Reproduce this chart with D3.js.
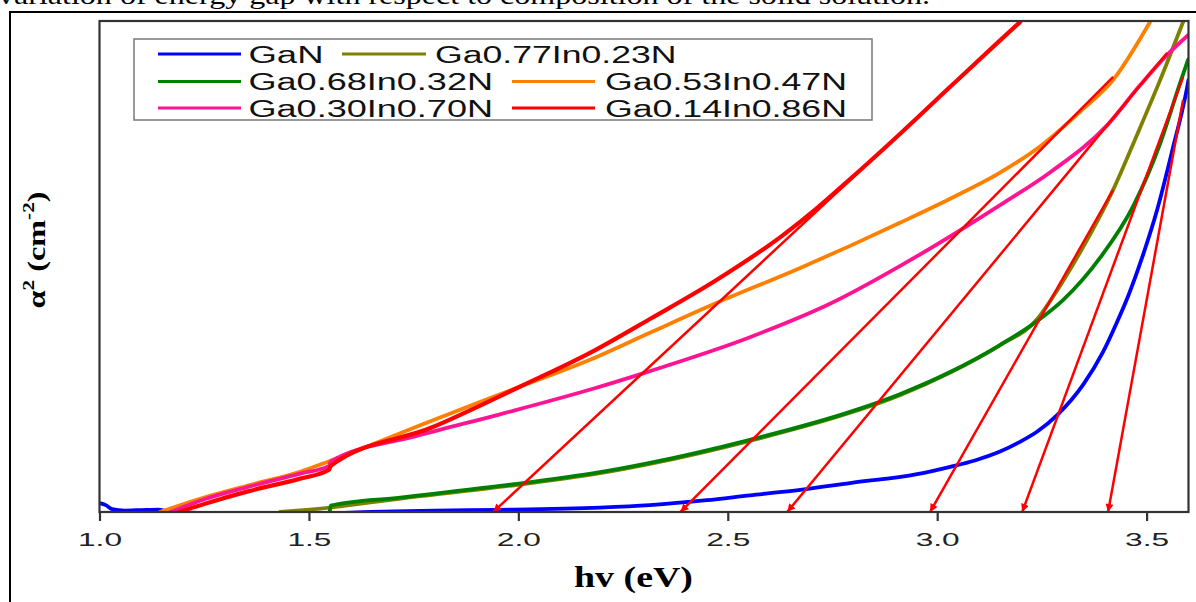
<!DOCTYPE html>
<html><head><meta charset="utf-8">
<script src="https://cdn.jsdelivr.net/npm/d3@7"></script>
<style>
html,body{margin:0;padding:0;background:#fff;}
svg{display:block;}
</style></head>
<body>
<svg id="chart" width="1196" height="602"></svg>
<script>
// ---- data (hv in eV, alpha^2 in arbitrary units) ----
const seriesNames = ["GaN","Ga0.77In0.23N","Ga0.68In0.32N","Ga0.53In0.47N","Ga0.30In0.70N","Ga0.14In0.86N"];
const seriesColors = ["#0000ff","#808000","#008000","#ff8000","#ff1493","#ff0000"];

const ganData = [[1.0,1.8],[1.015,1.4],[1.03,0.6],[1.06,0.3],[1.1,0.4],[1.14,0.5],[1.17,0.0],[1.3,-0.3],[1.5,-0.3],[1.65,0.0],[1.8,0.3],[1.956,0.45],[2.195,0.9],[2.314,1.4],[2.45,2.4],[2.553,3.4],[2.673,4.5],[2.792,5.9],[2.952,7.7],[3.031,9.2],[3.09,10.5],[3.15,12.3],[3.20,14.4],[3.239,16.4],[3.287,19.8],[3.349,26.0],[3.396,32.6],[3.43,38.8],[3.456,44.0],[3.49,52.0],[3.525,61.5],[3.56,73.2],[3.597,86.6],[3.60,88.0]];
const ga77Data = [[1.431,0],[1.55,0.9],[1.718,2.75],[1.956,5.1],[2.195,7.9],[2.314,9.8],[2.553,14.5],[2.792,20.2],[2.911,23.8],[3.031,28.4],[3.15,34.0],[3.239,39.3],[3.27,43.0],[3.342,53.0],[3.42,65.6],[3.477,76.8],[3.53,87.5],[3.587,99.8]];
const ga68Data = [[1.55,0.2],[1.552,1.3],[1.718,2.95],[1.956,5.3],[2.195,8.1],[2.314,10.0],[2.553,14.7],[2.792,20.4],[2.911,24.0],[3.031,28.5],[3.15,34.0],[3.239,38.9],[3.301,43.2],[3.39,51.9],[3.468,62.3],[3.533,75.2],[3.58,87.4],[3.599,92.1]];
const ga53Data = [[1.144,0],[1.24,2.7],[1.359,5.5],[1.479,8.2],[1.55,10.4],[1.796,18.7],[1.997,25.3],[2.171,31.0],[2.314,36.5],[2.474,42.6],[2.673,49.7],[2.792,54.2],[2.911,58.9],[3.031,63.8],[3.15,69.1],[3.246,74.5],[3.341,81.5],[3.42,88.0],[3.508,99.8]];
const ga30Data = [[1.17,0],[1.24,2.3],[1.359,5.2],[1.479,7.8],[1.548,9.4],[1.552,10.3],[1.758,15.5],[1.956,19.9],[2.178,25.1],[2.307,28.5],[2.553,35.6],[2.744,42.4],[2.952,52.1],[3.15,62.5],[3.27,69.2],[3.406,78.8],[3.485,87.0],[3.549,93.1],[3.599,97.1]];
const ga14Data = [[1.19,0],[1.26,1.9],[1.359,4.3],[1.479,6.8],[1.548,8.6],[1.552,9.4],[1.796,17.3],[1.997,25.25],[2.171,32.4],[2.314,39.3],[2.474,47.3],[2.632,56.4],[2.713,61.9],[2.792,67.8],[2.911,77.0],[3.031,86.6],[3.143,95.5],[3.198,99.8]];

// tangent (Tauc extrapolation) lines: upper point and band-gap intercept
const tangentTopX = [3.198, 3.42, 3.549, 3.42, 3.587, 3.587];
const tangentTopY = [99.8, 88.6, 93.5, 65.6, 88.6, 83.9];
const bandGaps    = [1.94, 2.387, 2.642, 2.983, 3.203, 3.408];

const xTicks = [1.0, 1.5, 2.0, 2.5, 3.0, 3.5];

// ---- drawing ----
const svg = d3.select("#chart");
const L = 99.5, R = 1188.5, T = 21, B = 512;
const x = d3.scaleLinear().domain([1.0, 3.6]).range([L, R]);
const y = d3.scaleLinear().domain([0, 100]).range([B, T]);

// page text above (cut off, as in the source page)
svg.append("text").attr("x", -2).attr("y", 4)
  .attr("font-family", "Liberation Serif").attr("font-size", 26)
  .attr("textLength", 932).attr("lengthAdjust", "spacingAndGlyphs")
  .text("variation of energy gap with respect to composition of the solid solution.");

// outer border of figure
svg.append("rect").attr("x", 10).attr("y", 12).attr("width", 1220).attr("height", 620)
  .attr("fill", "none").attr("stroke", "#000").attr("stroke-width", 2);

const defs = svg.append("defs");
defs.append("clipPath").attr("id", "clip")
  .append("rect").attr("x", L).attr("y", T).attr("width", R - L).attr("height", B - T);

const g = svg.append("g").attr("clip-path", "url(#clip)");
const line = d3.line().x(d => x(d[0])).y(d => y(d[1])).curve(d3.curveMonotoneX);

const allData = [ganData, ga77Data, ga68Data, ga53Data, ga30Data, ga14Data];
allData.forEach((data, i) => {
  g.append("path").datum(data).attr("d", line)
    .attr("fill", "none").attr("stroke", seriesColors[i])
    .attr("stroke-width", i === 5 ? 4.2 : 3.8).attr("stroke-linejoin", "round").attr("stroke-linecap", "round");
});

// tangent lines with arrows
defs.append("marker").attr("id", "arrow").attr("viewBox", "0 0 10 10")
  .attr("refX", 10).attr("refY", 5).attr("markerWidth", 11).attr("markerHeight", 8)
  .attr("markerUnits", "userSpaceOnUse").attr("orient", "auto")
  .append("path").attr("d", "M0,0 L10,5 L0,10 Z").attr("fill", "#ff0000");

bandGaps.forEach((eg, i) => {
  svg.append("line")
    .attr("x1", x(tangentTopX[i])).attr("y1", y(tangentTopY[i]))
    .attr("x2", x(eg)).attr("y2", y(0))
    .attr("stroke", "#ff0000").attr("stroke-width", 2.5)
    .attr("marker-end", "url(#arrow)");
});

// frame
svg.append("rect").attr("x", L).attr("y", T).attr("width", R - L).attr("height", B - T)
  .attr("fill", "none").attr("stroke", "#333").attr("stroke-width", 2.2);

// x axis
const xAxis = d3.axisBottom(x).tickValues(xTicks).tickFormat(d3.format(".1f")).tickSize(9).tickSizeOuter(0);
const ax = svg.append("g").attr("transform", `translate(0,${B})`).call(xAxis);
ax.select(".domain").remove();
ax.selectAll(".tick line").attr("stroke", "#333").attr("stroke-width", 2.2);
ax.selectAll(".tick text").attr("y", 0).attr("dy", 0)
  .attr("transform", "translate(0,34)")
  .attr("font-family", "Liberation Sans").attr("font-size", 18).attr("fill", "#222")
  .attr("textLength", 44).attr("lengthAdjust", "spacingAndGlyphs");

// axis titles
svg.append("text").attr("x", 633.5).attr("y", 587).attr("text-anchor", "middle")
  .attr("font-family", "Liberation Serif").attr("font-weight", "bold").attr("font-size", 30)
  .attr("textLength", 119).attr("lengthAdjust", "spacingAndGlyphs")
  .text("hv (eV)");

const yl = svg.append("text").attr("transform", "translate(45,250) rotate(-90)")
  .attr("text-anchor", "middle")
  .attr("font-family", "Liberation Serif").attr("font-weight", "bold").attr("font-size", 26)
  .attr("textLength", 117).attr("lengthAdjust", "spacingAndGlyphs");
yl.append("tspan").text("α");
yl.append("tspan").attr("dy", -11).attr("font-size", 17).text("2");
yl.append("tspan").attr("dy", 11).text(" (cm");
yl.append("tspan").attr("dy", -11).attr("font-size", 17).text("-2");
yl.append("tspan").attr("dy", 11).text(")");

// legend
const legend = svg.append("g");
legend.append("rect").attr("x", 134).attr("y", 39).attr("width", 738).attr("height", 81)
  .attr("fill", "#fff").attr("stroke", "#808080").attr("stroke-width", 1.6);
const legendItems = [
  {i:0, lx1:158, lx2:241, tx:248.5, ty:62.5, tw:75},
  {i:1, lx1:342, lx2:426, tx:435, ty:62.5, tw:241.5},
  {i:2, lx1:158, lx2:241, tx:248.5, ty:90, tw:244.5},
  {i:3, lx1:512, lx2:595, tx:605, ty:90, tw:242},
  {i:4, lx1:158, lx2:241, tx:248.5, ty:116.5, tw:244.5},
  {i:5, lx1:512, lx2:595, tx:605, ty:116.5, tw:242}
];
legendItems.forEach(it => {
  legend.append("line").attr("x1", it.lx1).attr("x2", it.lx2)
    .attr("y1", it.ty - 8.5).attr("y2", it.ty - 8.5)
    .attr("stroke", seriesColors[it.i]).attr("stroke-width", 3.2);
  legend.append("text").attr("x", it.tx).attr("y", it.ty)
    .attr("font-family", "Liberation Sans").attr("font-size", 23).attr("fill", "#111")
    .attr("textLength", it.tw).attr("lengthAdjust", "spacingAndGlyphs")
    .text(seriesNames[it.i]);
});
</script>
</body></html>
